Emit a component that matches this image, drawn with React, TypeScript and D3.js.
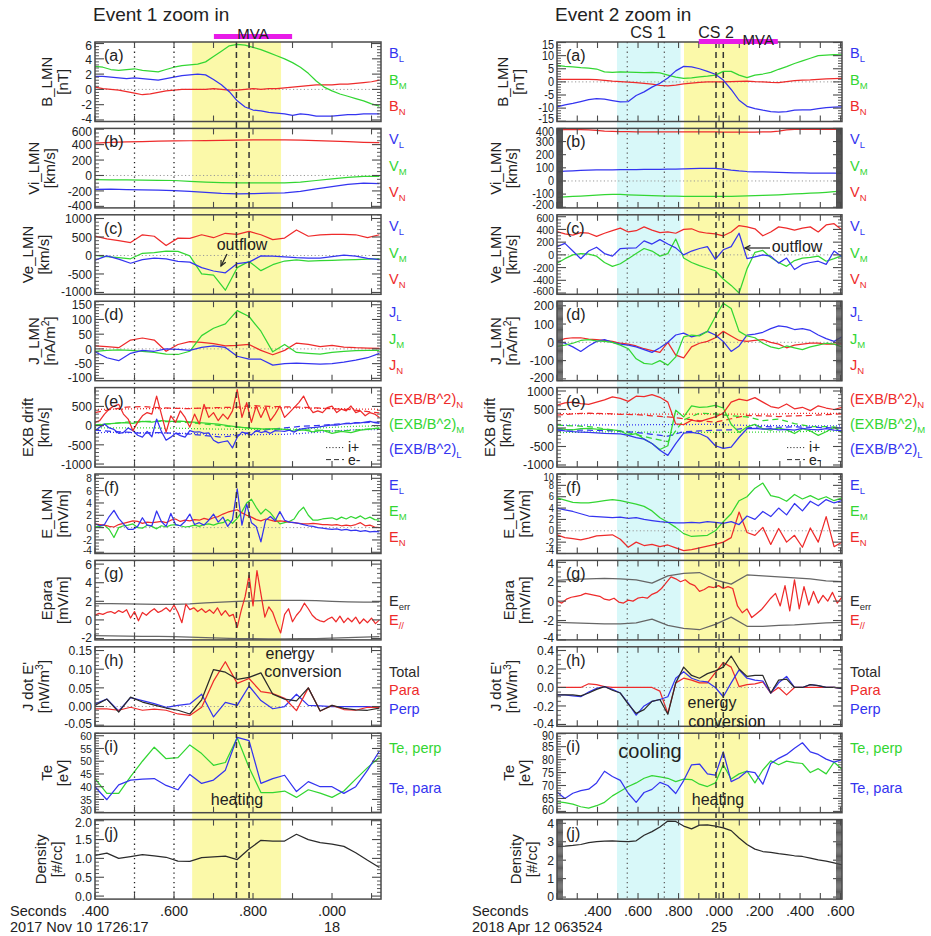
import React from "react";
import * as d3 from "d3";

const FONT = "'Liberation Sans', Arial, Helvetica, sans-serif";
const INK = "#222";
const FRAME = "#4a4a4a";
const BLUE = "#3434f0";
const GREEN = "#33d633";
const RED = "#ee2b2b";
const BLACK = "#2b2b2b";
const YELLOW = "#fbf9a9";
const CYAN = "#d8f8f9";
const MAGENTA = "#e81be8";

const TOP = 42;
const STEP = 86.4;
const PH = 79.5;

// ---------------- Event 1 : 2017 Nov 10 17:26:17.4 - 17:26:18.12 ----------------
const e1Time: [number, number] = [17.4, 18.124];
const e1Span: [number, number] = [17.4, 18.12];
const e1Dotted = [17.5, 17.6];
const e1Dashed = [17.758, 17.79];
const e1Yellow: [number, number] = [17.646, 17.871];
const e1Mva: [number, number] = [17.701, 17.899];
const e1TickLabels: [number, string][] = [[17.4, ".400"], [17.6, ".600"], [17.8, ".800"], [18.0, ".000"]];

const e1BL = [1.7, 1.7, 1.6, 1.5, 1.4, 1.5, 1.4, 1.3, 1.2, 1.4, 1.6, 1.8, 1.9, 2.0, 1.9, 1.3, 0.6, -0.3, -1.5, -2.3, -2.7, -2.8, -3.0, -3.1, -3.2, -3.4, -3.2, -3.3, -3.5, -3.5, -3.5, -3.4, -3.3, -3.3, -3.2, -3.2, -3.2];
const e1BM = [3.0, 2.9, 2.6, 2.5, 2.6, 2.7, 2.5, 2.4, 2.3, 2.6, 2.9, 3.1, 3.2, 3.3, 3.6, 4.3, 5.0, 5.7, 5.9, 5.8, 5.5, 5.2, 4.8, 4.4, 4.0, 3.5, 2.9, 2.1, 1.1, 0.3, -0.2, -0.6, -0.9, -1.2, -1.5, -1.9, -2.2];
const e1BN = [0.3, 0.1, 0.0, -0.1, -0.3, -0.5, -0.7, -0.6, -0.4, -0.2, -0.1, 0.0, 0.0, 0.0, 0.0, 0.1, 0.0, -0.1, -0.1, 0.0, 0.1, 0.0, 0.1, 0.1, 0.2, 0.3, 0.4, 0.5, 0.6, 0.6, 0.6, 0.7, 0.7, 0.8, 0.9, 1.0, 1.2];

const e1ViN = [420, 428, 434, 440, 445, 448, 450, 452, 455, 457, 460, 462, 462, 458, 452, 445, 438, 430, 425];
const e1ViM = [-55, -57, -58, -60, -62, -65, -75, -85, -92, -95, -97, -97, -97, -85, -65, -45, -25, -12, -12];
const e1ViL = [-180, -178, -182, -186, -190, -195, -205, -220, -232, -238, -235, -230, -225, -205, -175, -145, -115, -100, -105];

const e1VeN = [526, 450, 400, 350, 560, 520, 270, 470, 460, 560, 480, 600, 570, 650, 560, 430, 470, 690, 520, 560, 570, 570, 560, 480, 560];
const e1VeM = [0, -30, -60, -90, 60, 80, 120, 110, -10, -500, -530, -940, -330, -160, -410, -250, -150, -120, -150, -140, -130, -120, -110, -100, -90];
const e1VeL = [-130, -10, -100, -210, -110, -70, -90, -160, -180, -330, -420, -470, -220, -180, -10, -20, -40, -60, -70, -70, -30, 10, -20, -80, -110];

const e1JN = [10, 8, 4, 30, 37, 30, -8, 15, 25, 22, 18, 10, 12, 15, -5, -20, -5, 20, 15, 8, 12, 6, 4, 3, 2];
const e1JM = [-8, -5, -3, -5, -8, -12, -18, -19, -8, 45, 70, 85, 130, 110, 60, -10, 15, -12, -15, -18, -12, -8, -6, -5, -5];
const e1JL = [-10, -30, -40, -15, -5, -8, 0, -2, -5, 5, 10, 5, -25, -35, -35, -55, -50, -48, -50, -52, -50, -45, -38, -30, -15];

const e1ExbN = [85, 128, 300, 430, 510, 555, 300, 170, -130, 85, 256, 340, 300, 770, 300, -170, 256, 85, 385, 214, -40, 300, 43, 555, 214, 340, 128, 300, 170, 385, 940, 214, 600, 85, 510, 214, 470, 128, 300, 510, 214, 340, 470, 600, 770, 510, 340, 385, 340, 470, 510, 340, 430, 385, 510, 340, 385, 256, 340, 300, 214];
const e1ExbNe = [340, 420, 480, 500, 470, 450, 440, 460, 470, 480, 520, 500, 490, 480, 460, 440, 420, 380, 330];
const e1ExbM = [0, 40, 60, 80, 60, 110, 90, 130, 110, 120, 100, 80, 60, 40, 0, -30, -60, -80, -90, -80, -100, -140, -110, -160, -120, -200, -150, -180, -120, -90, -60];
const e1ExbMe = [20, 50, 90, 110, 110, 100, 80, 40, 0, -40, -70, -90, -100, -110, -120, -140, -130, -100, -70];
const e1ExbL = [-128, -40, 40, -60, -100, -200, -180, -60, -130, -250, -300, -150, -290, 170, -150, -380, -300, -200, -260, -300, -130, -170, -160, -200, -190, -380, -450, -420, -400, -580, -300, -170, -200, -240, -130, -180, -150, -200, -130, -140, -150, -120, -170, -100, -80, -60, -50, -40, -20, 0, 20, 10, 40, 60, 50, 80, 70, 90, 110, 80, 60];
const e1ExbLe = [-120, -150, -170, -200, -180, -200, -220, -260, -300, -250, -160, -100, -60, -20, 0, 30, 60, 80, 90];

const e1EL = [0.6, 0.3, 0.5, 1.8, 2.8, 1.5, 0.6, -0.3, -0.3, 0.2, 1.6, 0.4, 0.3, 2.7, 1.0, 0.2, 2.3, 0.5, 0.3, 1.0, 2.2, 0.5, 0.8, 0.4, 1.2, 2.2, 0.9, 1.7, 0.2, 1.3, 6.3, 0.4, 3.8, 0.8, 0.2, -2.3, 1.2, 1.8, 1.1, 2.6, 1.2, 0.9, 0.8, 0.7, 0.5, 0.3, 0.2, 0.0, -0.1, -0.2, -0.3, -0.2, -0.4, -0.3, -0.5, -0.4, -0.6, -0.5, -0.7, -0.6, -0.7];
const e1EM = [0.1, 0.2, 0.4, -0.3, -1.6, 0.0, 0.3, 0.4, 0.6, 0.0, -0.1, 0.4, 0.2, -0.2, 0.3, 0.1, 0.4, 0.5, 0.3, 0.1, 0.2, 0.4, 0.2, 0.5, 0.6, 0.4, 0.7, 0.8, 1.3, 0.7, 1.5, 2.6, 4.0, 4.6, 3.3, 2.2, 3.0, 2.4, 1.4, 0.6, 0.8, 1.0, 1.4, 2.6, 3.3, 2.0, 1.2, 1.2, 1.4, 1.5, 1.6, 1.3, 1.7, 1.4, 1.8, 1.5, 1.9, 1.4, 1.7, 1.3, 1.2];
const e1EN = [0.6, 0.5, 0.4, 0.2, 0.1, 0.5, 0.7, 0.9, 1.1, 1.0, 0.7, 0.9, 0.8, 0.9, 1.0, 0.8, 1.2, 1.4, 1.0, 1.2, 1.1, 1.3, 1.2, 1.5, 1.3, 1.6, 1.8, 2.2, 2.5, 2.7, 2.9, 2.4, 2.0, 1.7, 1.3, 1.1, 1.4, 1.2, 1.0, 1.1, 1.0, 0.9, 0.8, 0.7, 0.6, 0.6, 0.7, 0.6, 0.5, 0.5, 0.4, 0.5, 0.3, 0.4, 0.3, 0.5, 0.8, 0.3, 0.4, 0.1, 0.0];

const e1Epar = [0.5, 0.7, 0.6, 0.8, 0.9, 0.7, 1.0, 0.8, 1.1, 0.2, 0.9, -0.1, 0.8, 0.5, 0.9, 1.2, 0.8, 1.0, 1.3, 0.9, 1.6, 0.8, -0.3, 1.7, 1.1, 1.3, 0.9, 1.2, 0.8, 1.1, 0.7, 1.3, 0.5, 1.0, 0.4, 0.6, -0.8, 1.0, 2.5, 4.8, 1.5, 5.3, 2.8, 0.3, 1.4, 0.8, -0.4, -1.4, 0.6, 1.2, -0.2, 0.5, 1.0, 1.8, 1.2, 0.5, 0.1, -0.1, -0.2, 0.1, 0.3, -0.2, 0.4, -0.3, 0.2, -0.2, 0.3, -0.4, 0.1, -0.3, 0.2, -0.4, 0.0];
const e1ErrHi = [1.75, 1.75, 1.72, 1.7, 1.68, 1.67, 1.72, 1.82, 1.92, 2.0, 2.05, 2.1, 2.1, 2.1, 2.08, 2.0, 1.95, 1.9, 1.9];
const e1ErrLo = [-1.7, -1.72, -1.74, -1.76, -1.78, -1.8, -1.84, -1.9, -1.96, -2.0, -2.02, -2.03, -2.03, -2.02, -2.0, -1.95, -1.9, -1.85, -1.8];

const e1JeTot = [0.003, 0.02, -0.015, 0.025, 0.012, 0.004, -0.004, -0.01, -0.02, 0.018, 0.099, 0.092, 0.073, 0.078, 0.09, 0.033, 0.02, 0.015, 0.05, -0.012, 0.003, -0.005, -0.009, -0.01, -0.004];
const e1JePara = [-0.006, -0.006, -0.01, -0.002, -0.01, -0.007, -0.01, -0.02, -0.024, -0.002, 0.068, 0.12, 0.062, 0.075, 0.04, 0.035, 0.022, -0.011, 0.05, -0.012, 0.003, -0.008, -0.01, -0.002, -0.002];
const e1JePerp = [0.007, 0.02, -0.012, 0.024, 0.016, 0.008, -0.002, 0.003, 0.007, 0.033, -0.028, 0.011, 0.003, 0.055, 0.016, -0.006, 0.0, 0.033, 0.003, 0.002, 0.0, 0.0, 0.0, 0.0, -0.002];

const e1TePerp = [43.2, 37.4, 37.4, 44, 50, 55.5, 51, 51.4, 56.4, 53, 48.4, 49.5, 59.2, 47.5, 37.7, 37.7, 38.3, 35.8, 38.8, 37.5, 35.8, 38.3, 43, 47.5, 51.5];
const e1TePara = [40.0, 34.9, 40.7, 42.6, 43.0, 43.2, 40.5, 38.8, 44.8, 41.3, 42.6, 46.5, 59.4, 58.1, 41.3, 43.2, 44.5, 38.1, 42.0, 40.0, 40.0, 37.4, 40.0, 46.5, 54.0];
const e1Dens = [1.08, 1.14, 1.0, 1.05, 1.1, 1.07, 1.03, 0.93, 0.92, 1.02, 1.04, 1.06, 0.97, 1.25, 1.48, 1.46, 1.46, 1.64, 1.5, 1.42, 1.38, 1.32, 1.15, 0.95, 0.76];

// ---------------- Event 2 : 2018 Apr 12 06:35:24.2 - 06:35:25.61 ----------------
const e2Time: [number, number] = [24.2, 25.607];
const e2Span: [number, number] = [24.2, 25.607];
const e2Dotted = [24.547, 24.73];
const e2Dashed = [24.985, 25.021];
const e2Cyan: [number, number] = [24.496, 24.81];
const e2Yellow: [number, number] = [24.827, 25.143];
const e2Mva: [number, number] = [24.9, 25.29];
const e2TickLabels: [number, string][] = [[24.4, ".400"], [24.6, ".600"], [24.8, ".800"], [25.0, ".000"], [25.2, ".200"], [25.4, ".400"], [25.6, ".600"]];

const e2BL = [-9.5, -8.8, -8.2, -7.5, -6.8, -6.4, -6.6, -7.1, -7.6, -7.5, -5.2, -3.8, -2.0, -0.5, 1.5, 4.2, 5.9, 5.7, 5.0, 4.0, 2.9, 0.7, -2.9, -7.0, -9.3, -10.2, -10.8, -11.3, -11.5, -11.3, -10.8, -10.7, -10.7, -10.2, -9.8, -9.6, -9.5];
const e2BM = [6.3, 5.9, 5.7, 5.4, 5.2, 4.9, 3.8, 3.6, 3.8, 3.7, 3.6, 3.5, 3.6, 3.4, 2.6, 1.8, 1.3, 1.5, 1.9, 2.2, 2.6, 4.0, 4.0, 2.6, 1.6, 2.6, 3.0, 3.6, 4.8, 5.8, 7.0, 8.0, 9.0, 10.0, 10.2, 10.4, 10.3];
const e2BN = [1.0, 1.0, 1.0, 1.0, 1.0, 0.9, 0.6, 0.3, 0.1, -0.1, -0.3, -0.6, -0.9, -1.3, -1.5, -1.2, -0.8, -0.5, -0.2, 0.0, 0.0, 0.0, 0.1, 0.2, 0.3, 0.1, 0.0, -0.2, -0.3, 0.1, 0.5, 0.7, 0.8, 1.0, 1.1, 1.2, 1.3];

const e2ViN = [388, 390, 391, 390, 388, 385, 380, 378, 376, 375, 374, 373, 373, 373, 373, 373, 373, 373, 373, 373, 373, 372, 372, 372, 372, 372, 373, 374, 380, 388, 392, 393, 393, 393, 393, 393, 393];
const e2ViL = [70, 74, 77, 80, 82, 84, 85, 85, 86, 86, 87, 88, 88, 89, 90, 91, 92, 94, 95, 96, 96, 90, 82, 76, 72, 70, 69, 68, 66, 64, 62, 61, 60, 60, 59, 59, 58];
const e2ViM = [-125, -122, -118, -115, -112, -108, -104, -102, -103, -105, -108, -110, -112, -114, -115, -116, -117, -117, -118, -118, -118, -117, -117, -116, -114, -112, -110, -108, -105, -102, -99, -96, -93, -90, -86, -82, -78];

const e2VeN = [365, 330, 310, 350, 340, 290, 340, 380, 420, 360, 380, 440, 390, 350, 360, 340, 400, 410, 360, 340, 330, 300, 360, 460, 440, 410, 300, 360, 440, 420, 390, 420, 440, 360, 470, 490, 390];
const e2VeL = [130, 180, 60, -60, 60, 120, 20, -20, 100, 105, 110, 220, 170, 240, 170, 110, 0, 60, 100, 130, -70, 80, 130, 340, -60, -30, 0, -20, -130, -50, -230, -150, -120, -100, -150, 60, -30];
const e2VeM = [-130, -60, 0, 20, 10, -20, -120, -180, -140, -60, 20, 100, 60, -20, 20, 250, -50, -120, -170, -210, -250, -380, -480, -600, -220, 40, 70, -40, -120, -180, -90, -50, -40, -20, -100, -60, -10];

const e2JM = [-22, -15, -5, 10, 15, 8, 5, 0, -15, -35, -90, -115, -120, -100, -125, -80, 30, 40, 35, 60, 140, 214, 185, 60, 35, 25, -5, -25, -35, -20, -30, -40, -25, -15, -5, -10, -25];
const e2JL = [5, -5, -25, -50, -20, 5, 15, 0, -10, -15, -25, -40, -55, -30, 0, 40, 50, 30, 40, 60, 40, 5, -50, -20, 40, 45, 55, 75, 90, 85, 70, 75, 65, 40, 20, 5, 30];
const e2JN = [5, 20, 25, 25, 18, 15, 10, 5, -5, -10, -20, -35, -45, -55, 0, -70, -85, -25, -5, 5, 25, 60, 35, 10, 5, 10, 15, 0, -10, -30, -15, -10, -5, -5, -10, -10, -8];

const e2ExbN = [620, 680, 700, 660, 640, 700, 760, 840, 800, 720, 860, 850, 900, 830, 700, 110, 90, 210, 170, 240, 300, 400, 700, 780, 740, 820, 700, 580, 540, 650, 520, 560, 470, 600, 540, 500, 560];
const e2ExbNe = [350, 380, 400, 390, 370, 360, 330, 300, 250, 200, 160, 250, 340, 330, 310, 330, 340, 360, 380];
const e2ExbM = [-9, -40, -50, -20, -10, -30, -40, -50, -80, -190, -150, -300, -420, -580, -480, 480, 300, 600, 560, 570, 610, 540, 100, -120, 30, 100, -20, -60, 0, -50, -150, -20, -80, -200, -100, 20, -130];
const e2ExbMe = [80, 60, 40, -20, -80, -180, -280, -370, 220, 400, 380, 330, 300, 200, 240, 120, 40, 40, 10];
const e2ExbL = [-54, -80, -99, -110, -120, -130, -144, -150, -160, -200, -260, -300, -420, -600, -740, -420, -140, -120, -150, -250, -480, -550, -520, -250, -20, -10, -30, -20, -50, -40, -60, -10, -40, -50, -20, -60, -70];
const e2ExbLe = [-54, -54, -60, -70, -90, -120, -170, -220, -100, -80, -60, -50, 0, 40, 20, 30, 20, 10, 0];

const e2EL = [4.0, 3.7, 3.4, 3.0, 2.6, 2.5, 2.4, 2.3, 2.4, 2.2, 2.3, 2.0, 1.8, 1.6, 1.5, 1.4, 1.4, 1.5, 1.4, 1.6, 1.5, 1.3, 1.6, 1.1, 2.6, 2.0, 3.4, 2.5, 4.0, 2.8, 4.8, 3.5, 5.2, 4.4, 5.5, 4.9, 5.3];
const e2EM = [5.8, 5.4, 5.0, 4.9, 4.9, 5.1, 5.3, 5.5, 5.3, 5.0, 4.7, 4.3, 3.5, 2.3, 1.5, 0.6, -0.5, -1.0, -0.9, -0.8, 0.0, 1.6, 3.0, 5.3, 6.0, 7.5, 8.4, 6.2, 5.9, 5.2, 6.4, 5.6, 6.2, 5.5, 6.0, 5.3, 5.8];
const e2EN = [-0.7, -1.2, -1.4, -1.6, -1.3, -0.9, -0.8, -0.7, -1.5, -2.9, -2.0, -2.6, -2.4, -2.8, -2.5, -3.0, -3.5, -3.3, -3.0, -2.7, -2.4, -2.0, -1.2, 3.3, -0.3, -0.8, 0.6, -2.4, 0.4, -2.0, -0.8, -2.9, 0.5, -2.0, 2.5, -2.8, -2.0];

const e2Epar = [0.0, -0.2, 0.2, 0.4, 0.5, 0.6, 0.8, 0.7, 0.6, 0.5, 0.2, 0.1, 0.3, -0.1, -0.2, 0.1, 0.0, 0.3, 0.4, 0.3, 0.7, 0.9, 1.3, 1.9, 2.5, 2.3, 2.0, 2.2, 1.8, 1.6, 1.0, 1.2, 1.5, 1.4, 1.6, 1.3, 1.5, 1.3, -0.5, -1.2, -0.8, -1.7, -1.3, -0.9, -0.3, 0.3, 0.8, -0.5, 1.6, -1.0, 2.2, -0.8, 1.5, -0.4, 1.0, -0.2, 0.6, 0.0, 0.9, -0.2, 0.4];
const e2ErrHi = [2.15, 2.25, 2.3, 2.35, 2.3, 2.2, 1.85, 2.6, 2.85, 2.95, 2.2, 1.75, 2.7, 2.6, 2.5, 2.4, 2.3, 2.1, 2.0];
const e2ErrLo = [-2.2, -2.25, -2.3, -2.35, -2.35, -2.25, -1.85, -2.5, -2.8, -2.95, -2.4, -1.65, -2.6, -2.6, -2.5, -2.45, -2.35, -2.25, -2.2];

const e2JeTot = [-0.08, -0.08, -0.08, -0.09, -0.06, -0.02, 0.01, -0.03, -0.06, -0.18, -0.28, -0.24, -0.15, -0.13, -0.29, 0.05, 0.22, 0.13, 0.1, 0.15, 0.18, 0.22, 0.34, 0.2, 0.12, 0.13, 0.13, -0.06, 0.08, 0.09, 0.0, 0.0, 0.03, 0.02, 0.0, 0.0, -0.01];
const e2JePara = [0, 0, 0, 0, 0.04, 0.03, 0.01, 0, 0, 0, 0, 0, 0, -0.04, -0.28, 0.05, 0.1, 0.08, 0.05, 0.05, 0.16, 0.27, 0.22, 0.01, 0.03, 0.04, 0.06, -0.06, 0, -0.08, 0, 0, 0, 0, 0, 0, -0.01];
const e2JePerp = [-0.08, -0.08, -0.09, -0.1, -0.05, -0.01, 0.01, -0.02, -0.06, -0.17, -0.3, -0.2, -0.15, -0.13, -0.1, 0.1, 0.17, 0.1, 0.07, 0.06, 0.0, -0.1, 0.05, 0.19, 0.1, 0.08, 0.07, -0.06, 0.05, 0.12, 0.0, 0.0, 0.03, 0.02, 0.0, 0.0, -0.01];

const e2TePerp = [63.8, 63.4, 62.8, 61.8, 61.3, 62.2, 63.5, 66.0, 67.8, 69.6, 71.0, 72.8, 73.8, 73.3, 72.8, 71.5, 72.5, 72.3, 70.5, 69.6, 71.0, 78.0, 72.5, 74.5, 75.6, 71.0, 76.0, 79.5, 78.0, 79.4, 78.8, 78.5, 75.0, 76.5, 74.5, 79.0, 76.3];
const e2TePara = [67.5, 65.0, 67.0, 68.0, 68.6, 71.0, 75.5, 73.5, 72.0, 67.0, 63.5, 67.3, 68.5, 71.2, 70.0, 66.9, 71.9, 78.0, 78.3, 74.5, 74.0, 83.0, 71.5, 73.0, 75.5, 75.0, 70.5, 78.5, 80.5, 82.0, 84.4, 86.5, 83.0, 82.0, 80.2, 79.0, 80.0];
const e2Dens = [2.75, 2.76, 2.8, 2.85, 2.95, 3.0, 3.03, 3.04, 3.02, 3.0, 3.05, 3.35, 3.55, 3.8, 4.12, 4.1, 3.85, 3.7, 3.9, 3.92, 3.85, 3.75, 3.6, 3.2, 2.85, 2.6, 2.47, 2.42, 2.35, 2.3, 2.24, 2.2, 2.11, 2.02, 1.95, 1.85, 1.75];

// ---------------- panel model ----------------
type Ser = { v: number[]; span: [number, number]; color: string; dash?: string };
type Leg = { main: string; sub?: string; color: string; dy: number };
type Panel = {
  tag: string; t1: string; t2: string; dom: [number, number]; ticks: number[]; fmt: string;
  minor: number; minorLen?: number; zero?: boolean; series: Ser[]; legend: Leg[];
};

const ser = (v: number[], span: [number, number], color: string, dash?: string): Ser => ({ v, span, color, dash });
const lmn = (m: string): Leg[] => [
  { main: m, sub: "L", color: BLUE, dy: 16 },
  { main: m, sub: "M", color: GREEN, dy: 43 },
  { main: m, sub: "N", color: RED, dy: 69 },
];
const eLmn = (): Leg[] => [
  { main: "E", sub: "L", color: BLUE, dy: 16 },
  { main: "E", sub: "M", color: GREEN, dy: 42 },
  { main: "E", sub: "N", color: RED, dy: 68 },
];
const exbLeg = (): Leg[] => [
  { main: "(EXB/B^2)", sub: "N", color: RED, dy: 16 },
  { main: "(EXB/B^2)", sub: "M", color: GREEN, dy: 41 },
  { main: "(EXB/B^2)", sub: "L", color: BLUE, dy: 66 },
];
const eparLeg = (): Leg[] => [
  { main: "E", sub: "err", color: BLACK, dy: 46 },
  { main: "E", sub: "//", color: RED, dy: 65 },
];
const jeLeg = (): Leg[] => [
  { main: "Total", color: BLACK, dy: 30 },
  { main: "Para", color: RED, dy: 48 },
  { main: "Perp", color: BLUE, dy: 67 },
];
const teLeg = (): Leg[] => [
  { main: "Te, perp", color: GREEN, dy: 20 },
  { main: "Te, para", color: BLUE, dy: 60 },
];

const S1 = e1Span;
const S2 = e2Span;

const leftPanels: Panel[] = [
  { tag: "(a)", t1: "B_LMN", t2: "[nT]", dom: [-4.2, 6.2], ticks: [-4, -2, 0, 2, 4, 6], fmt: "d", minor: 5, zero: true,
    series: [ser(e1BN, S1, RED), ser(e1BM, S1, GREEN), ser(e1BL, S1, BLUE)], legend: lmn("B") },
  { tag: "(b)", t1: "Vi_LMN", t2: "[km/s]", dom: [-420, 610], ticks: [-400, -200, 0, 200, 400, 600], fmt: "d", minor: 4, zero: true,
    series: [ser(e1ViN, S1, RED), ser(e1ViM, S1, GREEN), ser(e1ViL, S1, BLUE)], legend: lmn("V") },
  { tag: "(c)", t1: "Ve_LMN", t2: "[km/s]", dom: [-1050, 1100], ticks: [-1000, -500, 0, 500, 1000], fmt: "d", minor: 5, zero: true,
    series: [ser(e1VeN, S1, RED), ser(e1VeM, S1, GREEN), ser(e1VeL, S1, BLUE)], legend: lmn("V") },
  { tag: "(d)", t1: "J_LMN", t2: "[nA/m^2]", dom: [-108, 162], ticks: [-100, -50, 0, 50, 100, 150], fmt: "d", minor: 5, zero: true,
    series: [ser(e1JN, S1, RED), ser(e1JM, S1, GREEN), ser(e1JL, S1, BLUE)], legend: lmn("J") },
  { tag: "(e)", t1: "EXB drift", t2: "[km/s]", dom: [-1080, 990], ticks: [-1000, -500, 0, 500], fmt: "d", minor: 5,
    series: [
      ser(e1ViN, S1, RED, "1,2"), ser(e1ViM, S1, GREEN, "1,2"), ser(e1ViL, S1, BLUE, "1,2"),
      ser(e1ExbNe, S1, RED, "6,4"), ser(e1ExbMe, S1, GREEN, "6,4"), ser(e1ExbLe, S1, BLUE, "6,4"),
      ser(e1ExbM, S1, GREEN), ser(e1ExbL, S1, BLUE), ser(e1ExbN, S1, RED),
    ], legend: exbLeg() },
  { tag: "(f)", t1: "E_LMN", t2: "[mV/m]", dom: [-4.2, 8.7], ticks: [-4, -2, 0, 2, 4, 6, 8], fmt: "d", minor: 4, zero: true,
    series: [ser(e1EM, S1, GREEN), ser(e1EN, S1, RED), ser(e1EL, S1, BLUE)], legend: eLmn() },
  { tag: "(g)", t1: "Epara", t2: "[mV/m]", dom: [-2.15, 6.4], ticks: [-2, 0, 2, 4, 6], fmt: "d", minor: 4,
    series: [ser(e1ErrHi, S1, "#666"), ser(e1ErrLo, S1, "#666"), ser(e1Epar, S1, RED)], legend: eparLeg() },
  { tag: "(h)", t1: "J dot E'", t2: "[nW/m^3]", dom: [-0.053, 0.16], ticks: [-0.05, 0, 0.05, 0.1, 0.15], fmt: ".2f", minor: 5, zero: true,
    series: [ser(e1JePerp, S1, BLUE), ser(e1JePara, S1, RED), ser(e1JeTot, S1, BLACK)], legend: jeLeg() },
  { tag: "(i)", t1: "Te", t2: "[eV]", dom: [29.8, 61], ticks: [30, 35, 40, 45, 50, 55, 60], fmt: "d", minor: 5,
    series: [ser(e1TePerp, S1, GREEN), ser(e1TePara, S1, BLUE)], legend: teLeg() },
  { tag: "(j)", t1: "Density", t2: "[#/cc]", dom: [-0.08, 2.03], ticks: [0, 0.5, 1, 1.5, 2], fmt: ".1f", minor: 5,
    series: [ser(e1Dens, S1, BLACK)], legend: [] },
];

const rightPanels: Panel[] = [
  { tag: "(a)", t1: "B_LMN", t2: "[nT]", dom: [-15.1, 15.2], ticks: [-15, -10, -5, 0, 5, 10, 15], fmt: "d", minor: 5, zero: true,
    series: [ser(e2BN, S2, RED), ser(e2BM, S2, GREEN), ser(e2BL, S2, BLUE)], legend: lmn("B") },
  { tag: "(b)", t1: "Vi_LMN", t2: "[km/s]", dom: [-205, 400], ticks: [-200, -100, 0, 100, 200, 300, 400], fmt: "d", minor: 25, minorLen: 6, zero: true,
    series: [ser(e2ViN, S2, RED), ser(e2ViM, S2, GREEN), ser(e2ViL, S2, BLUE)], legend: lmn("V") },
  { tag: "(c)", t1: "Ve_LMN", t2: "[km/s]", dom: [-620, 630], ticks: [-600, -400, -200, 0, 200, 400, 600], fmt: "d", minor: 4, zero: true,
    series: [ser(e2VeN, S2, RED), ser(e2VeM, S2, GREEN), ser(e2VeL, S2, BLUE)], legend: lmn("V") },
  { tag: "(d)", t1: "J_LMN", t2: "[nA/m^2]", dom: [-210, 225], ticks: [-200, -100, 0, 100, 200], fmt: "d", minor: 20, minorLen: 6, zero: true,
    series: [ser(e2JN, S2, RED), ser(e2JL, S2, BLUE), ser(e2JM, S2, GREEN)], legend: lmn("J") },
  { tag: "(e)", t1: "EXB drift", t2: "[km/s]", dom: [-1057, 1092], ticks: [-1000, -500, 0, 500, 1000], fmt: "d", minor: 5,
    series: [
      ser(e2ViN, S2, RED, "1,2"), ser(e2ViM, S2, GREEN, "1,2"), ser(e2ViL, S2, BLUE, "1,2"),
      ser(e2ExbNe, S2, RED, "6,4"), ser(e2ExbMe, S2, GREEN, "6,4"), ser(e2ExbLe, S2, BLUE, "6,4"),
      ser(e2ExbM, S2, GREEN), ser(e2ExbL, S2, BLUE), ser(e2ExbN, S2, RED),
    ], legend: exbLeg() },
  { tag: "(f)", t1: "E_LMN", t2: "[mV/m]", dom: [-4, 10], ticks: [-4, -2, 0, 2, 4, 6, 8, 10], fmt: "d", minor: 4, zero: true,
    series: [ser(e2EN, S2, RED), ser(e2EM, S2, GREEN), ser(e2EL, S2, BLUE)], legend: eLmn() },
  { tag: "(g)", t1: "Epara", t2: "[mV/m]", dom: [-4, 4.2], ticks: [-4, -2, 0, 2, 4], fmt: "d", minor: 4,
    series: [ser(e2ErrHi, S2, "#666"), ser(e2ErrLo, S2, "#666"), ser(e2Epar, S2, RED)], legend: eparLeg() },
  { tag: "(h)", t1: "J dot E'", t2: "[nW/m^3]", dom: [-0.42, 0.44], ticks: [-0.4, -0.2, 0, 0.2, 0.4], fmt: ".1f", minor: 4, zero: true,
    series: [ser(e2JePara, S2, RED), ser(e2JePerp, S2, BLUE), ser(e2JeTot, S2, BLACK)], legend: jeLeg() },
  { tag: "(i)", t1: "Te", t2: "[eV]", dom: [59.5, 90.2], ticks: [60, 65, 70, 75, 80, 85, 90], fmt: "d", minor: 5,
    series: [ser(e2TePerp, S2, GREEN), ser(e2TePara, S2, BLUE)], legend: teLeg() },
  { tag: "(j)", t1: "Density", t2: "[#/cc]", dom: [-0.11, 4.2], ticks: [0, 1, 2, 3, 4], fmt: "d", minor: 20, minorLen: 6,
    series: [ser(e2Dens, S2, BLACK)], legend: [] },
];

type Col = {
  id: string; x0: number; x1: number; time: [number, number]; labels: [number, string][]; dayLabel: [number, string];
  date: string; title: string; dotted: number[]; dottedColor: string; dashed: number[];
  shades: { span: [number, number]; color: string }[]; mva: [number, number]; mvaBarY: number; mvaTextY: number;
  mvaTextShift: number; panels: Panel[];
};

const col1: Col = {
  id: "ev1", x0: 95, x1: 381, time: e1Time, labels: e1TickLabels, dayLabel: [18.0, "18"],
  date: "2017 Nov 10 1726:17", title: "Event 1 zoom in", dotted: e1Dotted, dottedColor: "#222", dashed: e1Dashed,
  shades: [{ span: e1Yellow, color: YELLOW }], mva: e1Mva, mvaBarY: 34, mvaTextY: 39, mvaTextShift: 0, panels: leftPanels,
};
const col2: Col = {
  id: "ev2", x0: 557, x1: 842, time: e2Time, labels: e2TickLabels, dayLabel: [25.0, "25"],
  date: "2018 Apr 12 063524", title: "Event 2 zoom in", dotted: e2Dotted, dottedColor: "#666", dashed: e2Dashed,
  shades: [{ span: e2Cyan, color: CYAN }, { span: e2Yellow, color: YELLOW }], mva: e2Mva, mvaBarY: 39, mvaTextY: 45,
  mvaTextShift: 20, panels: rightPanels,
};

const pts = (s: Ser): [number, number][] =>
  s.v.map((v, i) => [s.span[0] + ((s.span[1] - s.span[0]) * i) / (s.v.length - 1), v]);

const fmtTick = (f: string) => {
  const g = d3.format(f);
  return (v: number) => g(v).replace("\u2212", "-");
};

function Rich({ s }: { s: string }) {
  const parts = s.split(/\^(\w)/);
  return (
    <>
      {parts.map((p, i) =>
        i % 2 === 1 ? (
          <tspan key={i} dy={-6} fontSize="70%">{p}</tspan>
        ) : (
          <tspan key={i} dy={i > 0 ? 6 : 0}>{p}</tspan>
        )
      )}
    </>
  );
}

function geom(k: number, p: Panel) {
  const top = TOP + STEP * k;
  const bot = top + PH;
  const y = d3.scaleLinear().domain(p.dom).range([bot, top]);
  return { top, bot, y };
}

function Column({ c }: { c: Col }) {
  const x = d3.scaleLinear().domain(c.time).range([c.x0, c.x1]);
  const yTop = TOP;
  const yBot = TOP + STEP * (c.panels.length - 1) + PH;
  const xTicks: number[] = [];
  for (let i = Math.ceil(c.time[0] * 10 - 1e-6); i / 10 <= c.time[1] + 1e-6; i++) xTicks.push(i / 10);

  return (
    <g>
      <defs>
        {c.panels.map((p, k) => {
          const { top } = geom(k, p);
          return (
            <clipPath id={`${c.id}c${k}`} key={k}>
              <rect x={c.x0} y={top} width={c.x1 - c.x0} height={PH} />
            </clipPath>
          );
        })}
      </defs>

      {/* interval shading across all panels */}
      {c.shades.map((s, i) => (
        <rect key={i} x={x(s.span[0])} y={yTop} width={x(s.span[1]) - x(s.span[0])} height={yBot - yTop} fill={s.color} />
      ))}

      {/* data traces */}
      {c.panels.map((p, k) => {
        const { y } = geom(k, p);
        const line = d3.line<[number, number]>().x((d) => x(d[0])).y((d) => y(d[1]));
        return (
          <g key={k} clipPath={`url(#${c.id}c${k})`}>
            {p.zero && (
              <line x1={c.x0} x2={c.x1} y1={y(0)} y2={y(0)} stroke="#999" strokeWidth={1} strokeDasharray="1.2,2.4" />
            )}
            {p.series.map((s, i) => (
              <path key={i} d={line(pts(s)) || ""} fill="none" stroke={s.color} strokeWidth={1.25}
                strokeDasharray={s.dash} strokeLinejoin="round" />
            ))}
          </g>
        );
      })}

      {/* event markers */}
      {c.dotted.map((t, i) => (
        <line key={`d${i}`} x1={x(t)} x2={x(t)} y1={yTop} y2={yBot} stroke={c.dottedColor} strokeWidth={1.3} strokeDasharray="1.3,3.5" />
      ))}
      {c.dashed.map((t, i) => (
        <line key={`s${i}`} x1={x(t)} x2={x(t)} y1={yTop} y2={yBot} stroke="#333" strokeWidth={1.5} strokeDasharray="6,4" />
      ))}

      {/* frames, ticks, labels */}
      {c.panels.map((p, k) => {
        const { top, bot, y } = geom(k, p);
        const f = fmtTick(p.fmt);
        const major = p.ticks.filter((v) => v >= p.dom[0] - 1e-9 && v <= p.dom[1] + 1e-9);
        const step = (p.ticks[1] - p.ticks[0]) / p.minor;
        const minor: number[] = [];
        for (let i = Math.ceil(p.dom[0] / step - 1e-6); i * step <= p.dom[1] + 1e-9; i++) {
          const v = i * step;
          if (!p.ticks.some((t) => Math.abs(t - v) < step * 0.01)) minor.push(v);
        }
        const mLen = p.minorLen ?? 4;
        const maxLen = Math.max(...major.map((v) => f(v).length));
        const c2 = c.x0 - (maxLen * 6.5 + 4) - 15;
        const c1 = c2 - 16;
        const mid = (top + bot) / 2;
        // crowded axes get a slightly smaller label face
        const spacing = Math.abs(y(p.ticks[1]) - y(p.ticks[0]));
        const fs = Math.min(13.5, spacing * 0.92);
        const pad = 3;
        const labelY = (v: number) => Math.min(bot - pad, Math.max(top + pad, y(v)));
        return (
          <g key={k}>
            <rect x={c.x0} y={top} width={c.x1 - c.x0} height={PH} fill="none" stroke={FRAME} strokeWidth={1.5} />
            {minor.map((v, i) => (
              <g key={`m${i}`} stroke={FRAME} strokeWidth={0.9}>
                <line x1={c.x0} x2={c.x0 + mLen} y1={y(v)} y2={y(v)} />
                <line x1={c.x1 - mLen} x2={c.x1} y1={y(v)} y2={y(v)} />
              </g>
            ))}
            {major.map((v, i) => (
              <g key={`M${i}`} stroke={FRAME} strokeWidth={1.1}>
                <line x1={c.x0} x2={c.x0 + 9} y1={y(v)} y2={y(v)} />
                <line x1={c.x1 - 9} x2={c.x1} y1={y(v)} y2={y(v)} />
              </g>
            ))}
            {xTicks.map((t, i) => (
              <g key={`x${i}`} stroke={FRAME} strokeWidth={1.1}>
                <line x1={x(t)} x2={x(t)} y1={top} y2={top + 6} />
                <line x1={x(t)} x2={x(t)} y1={bot - 6} y2={bot} />
              </g>
            ))}
            {major.map((v, i) => (
              <text key={`L${i}`} transform={`translate(${c.x0 - 3},${labelY(v) + fs * 0.35}) scale(0.9,1)`} textAnchor="end"
                fontSize={fs} fill={INK}>{f(v)}</text>
            ))}
            <text x={c.x0 + 9} y={top + 19} fontSize={16} fill={INK}>{p.tag}</text>
            <text transform={`translate(${c1 + 5},${mid}) rotate(-90)`} textAnchor="middle" fontSize={15} fill={INK}>{p.t1}</text>
            <text transform={`translate(${c2 + 5},${mid}) rotate(-90)`} textAnchor="middle" fontSize={15} fill={INK}>
              <Rich s={p.t2} />
            </text>
            {p.legend.map((l, i) => (
              <text key={`g${i}`} x={c.x1 + 8} y={top + l.dy} fontSize={14.5} fill={l.color}>
                {l.main}
                {l.sub && <tspan dy={4} fontSize={9.5}>{l.sub}</tspan>}
              </text>
            ))}
          </g>
        );
      })}

      {/* i+ / e- key inside the drift panel */}
      {(() => {
        const top = TOP + STEP * 4;
        const lx = c.x1 - 55;
        return (
          <g fontSize={14} fill={INK}>
            <line x1={lx} x2={lx + 18} y1={top + 60} y2={top + 60} stroke="#333" strokeDasharray="1.2,2" />
            <text x={lx + 22} y={top + 64}>i+</text>
            <line x1={lx} x2={lx + 18} y1={top + 72} y2={top + 72} stroke="#333" strokeDasharray="5,3" />
            <text x={lx + 22} y={top + 77}>e-</text>
          </g>
        );
      })()}

      {/* header */}
      <text x={c.x0 - 2} y={21} fontSize={19} fill={INK}>{c.title}</text>
      <rect x={x(c.mva[0])} y={c.mvaBarY} width={x(c.mva[1]) - x(c.mva[0])} height={5} fill={MAGENTA} />
      <text x={(x(c.mva[0]) + x(c.mva[1])) / 2 + c.mvaTextShift} y={c.mvaTextY} textAnchor="middle" fontSize={15} fill={INK}>MVA</text>

      {/* time axis */}
      <text x={c.x0 - 85} y={916} fontSize={14.5} fill={INK}>Seconds</text>
      <text x={c.x0 - 85} y={932} fontSize={14.5} fill={INK}>{c.date}</text>
      {c.labels.map(([t, s], i) => (
        <text key={i} x={x(t)} y={916} textAnchor="middle" fontSize={14.5} fill={INK}>{s}</text>
      ))}
      <text x={x(c.dayLabel[0])} y={932} textAnchor="middle" fontSize={14.5} fill={INK}>{c.dayLabel[1]}</text>
    </g>
  );
}

export default function App() {
  const arrow = (x1: number, y1: number, x2: number, y2: number) => {
    const a = Math.atan2(y2 - y1, x2 - x1);
    const h = 6;
    const p1 = [x2 - h * Math.cos(a - 0.45), y2 - h * Math.sin(a - 0.45)];
    const p2 = [x2 - h * Math.cos(a + 0.45), y2 - h * Math.sin(a + 0.45)];
    return (
      <g stroke={INK} strokeWidth={1.2} fill="none">
        <line x1={x1} y1={y1} x2={x2} y2={y2} />
        <polyline points={`${p1[0]},${p1[1]} ${x2},${y2} ${p2[0]},${p2[1]}`} />
      </g>
    );
  };
  return (
    <svg width={931} height={936} style={{ position: "absolute", left: 0, top: 0, background: "#fff" }} fontFamily={FONT}>
      <rect x={0} y={0} width={931} height={936} fill="#fff" />
      <Column c={col1} />
      <Column c={col2} />

      {/* annotations, event 1 */}
      <g fontSize={16} fill={INK} textAnchor="middle">
        <text x={242} y={250}>outflow</text>
        <text x={290} y={659}>energy</text>
        <text x={303} y={677}>conversion</text>
        <text x={237} y={805}>heating</text>
      </g>
      {arrow(227, 254, 221, 266)}

      {/* annotations, event 2 */}
      <g fontSize={16} fill={INK} textAnchor="middle">
        <text x={648} y={38}>CS 1</text>
        <text x={716} y={38}>CS 2</text>
        <text x={797} y={252}>outflow</text>
        <text x={712} y={708}>energy</text>
        <text x={727} y={727}>conversion</text>
        <text x={650} y={758} fontSize={20}>cooling</text>
        <text x={718} y={805}>heating</text>
      </g>
      {arrow(770, 248, 745, 248)}
    </svg>
  );
}
